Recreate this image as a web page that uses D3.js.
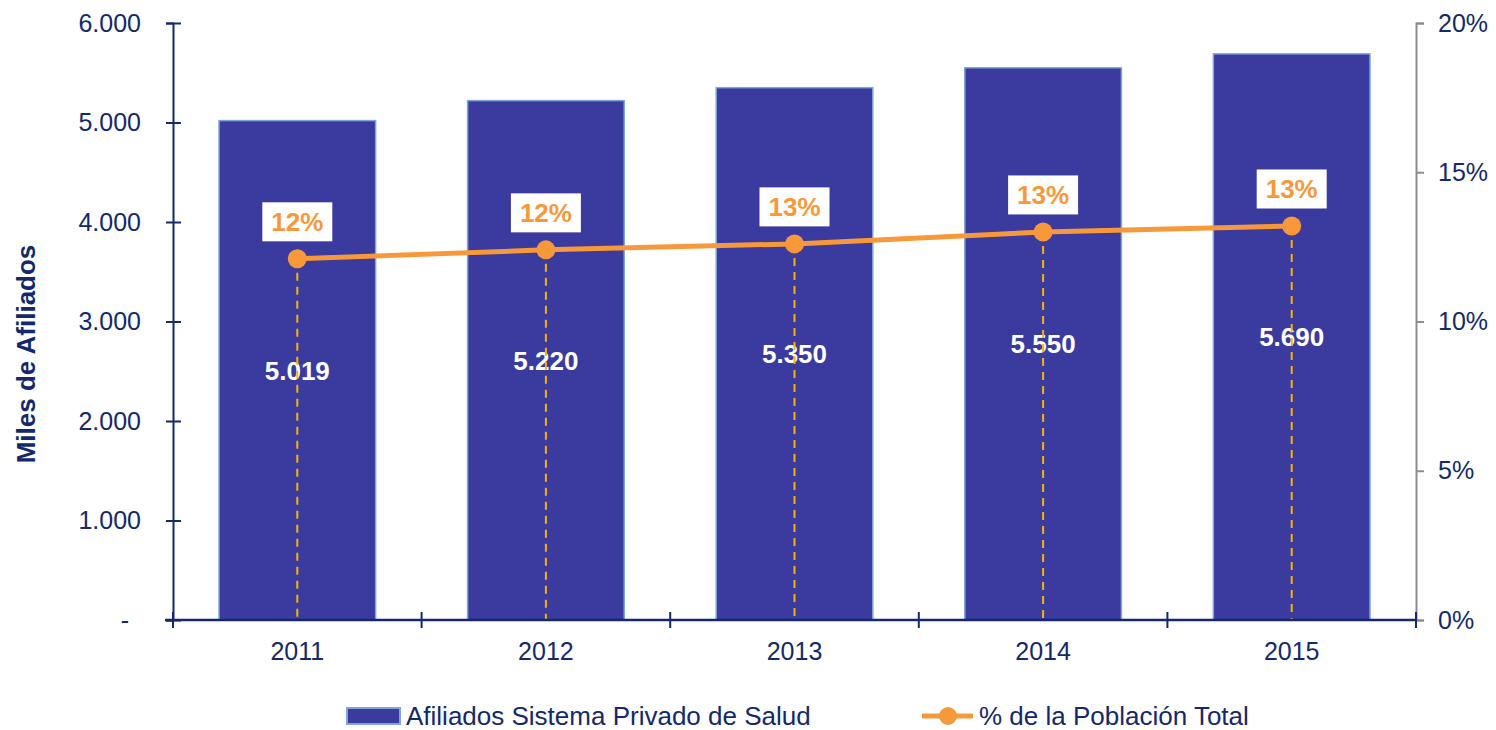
<!DOCTYPE html>
<html>
<head>
<meta charset="utf-8">
<script src="https://cdn.jsdelivr.net/npm/d3@7"></script>
<style>
  body { margin: 0; background: #fff; }
  svg text { font-family: "Liberation Sans", Arial, sans-serif; }
</style>
</head>
<body>
<svg id="chart"></svg>
<script>
// chart data
const years = ["2011", "2012", "2013", "2014", "2015"];
const afiliados = [5019, 5220, 5350, 5550, 5690];
const pctPoblacion = [12.1, 12.4, 12.6, 13.0, 13.2];
const leftTicks = [0, 1000, 2000, 3000, 4000, 5000, 6000];
const rightTicks = [0, 5, 10, 15, 20];

const width = 1496, height = 730;
const margin = { top: 23, right: 80, bottom: 110, left: 173 };
const navy = "#13296b", barFill = "#3a3a9f", barEdge = "#7ea6d8";
const orange = "#f7993a", gold = "#f5b400";

const svg = d3.select("#chart").attr("width", width).attr("height", height);

const locale = d3.formatLocale({ decimal: ",", thousands: ".", grouping: [3], currency: ["", ""] });
const fmt = locale.format(",d");

const x = d3.scaleBand()
  .domain(years)
  .range([margin.left, width - margin.right])
  .paddingInner(0.37)
  .paddingOuter(0.185);

const y = d3.scaleLinear().domain([0, 6000]).range([height - margin.bottom, margin.top]);
const y2 = d3.scaleLinear().domain([0, 20]).range([height - margin.bottom, margin.top]);

const x0 = margin.left, x1 = width - margin.right, yBase = height - margin.bottom;

// bars
svg.selectAll("rect.bar")
  .data(afiliados)
  .enter()
  .append("rect")
  .attr("class", "bar")
  .attr("x", (d, i) => x(years[i]))
  .attr("y", d => y(d))
  .attr("width", x.bandwidth())
  .attr("height", d => yBase - y(d))
  .attr("fill", barFill)
  .attr("stroke", barEdge)
  .attr("stroke-width", 1.5);

// bar value labels
svg.selectAll("text.val")
  .data(afiliados)
  .enter()
  .append("text")
  .attr("class", "val")
  .attr("x", (d, i) => x(years[i]) + x.bandwidth() / 2)
  .attr("y", d => (y(d) + yBase) / 2)
  .attr("dy", "0.36em")
  .attr("text-anchor", "middle")
  .attr("fill", "#fff")
  .style("font-size", "26px")
  .style("font-weight", "bold")
  .text(d => fmt(d));

const cx = (d, i) => x(years[i]) + x.bandwidth() / 2;

// dashed drop lines
svg.selectAll("line.drop")
  .data(pctPoblacion)
  .enter()
  .append("line")
  .attr("class", "drop")
  .attr("x1", cx).attr("x2", cx)
  .attr("y1", d => y2(d)).attr("y2", yBase)
  .attr("stroke", gold)
  .attr("stroke-width", 2)
  .attr("stroke-dasharray", "8,6");

// left axis
const leftAxis = svg.append("g")
  .attr("transform", `translate(${x0},0)`)
  .call(d3.axisLeft(y).tickValues(leftTicks).tickSize(7).tickPadding(25)
    .tickFormat(d => d === 0 ? "-" : fmt(d)));
leftAxis.select(".domain").attr("stroke", navy).attr("stroke-width", 2);
leftAxis.selectAll(".tick line").attr("x1", 8).attr("stroke", navy).attr("stroke-width", 2);
leftAxis.selectAll(".tick text")
  .attr("fill", navy)
  .style("font-size", "25px")
  .filter(d => d === 0)
  .attr("x", -44);

// right axis
const rightAxis = svg.append("g")
  .attr("transform", `translate(${x1},0)`)
  .call(d3.axisRight(y2).tickValues(rightTicks).tickSize(8).tickPadding(14).tickFormat(d => d + "%"));
rightAxis.select(".domain").attr("stroke", "#8c8c8c").attr("stroke-width", 2);
rightAxis.selectAll(".tick line").attr("stroke", "#8c8c8c").attr("stroke-width", 2);
rightAxis.selectAll(".tick text").attr("fill", navy).style("font-size", "25px");

// bottom axis: ticks at band boundaries, labels at centers
const xAxis = svg.append("g");
xAxis.append("line")
  .attr("x1", x0 - 8).attr("x2", x1)
  .attr("y1", yBase).attr("y2", yBase)
  .attr("stroke", navy).attr("stroke-width", 2.5);
const bounds = years.map(yr => x(yr) - x.step() * x.paddingInner() / 2).concat([x1]);
xAxis.selectAll("line.xt")
  .data(bounds)
  .enter()
  .append("line")
  .attr("class", "xt")
  .attr("x1", d => d).attr("x2", d => d)
  .attr("y1", yBase - 8).attr("y2", yBase + 8)
  .attr("stroke", navy).attr("stroke-width", 2);
xAxis.selectAll("text")
  .data(years)
  .enter()
  .append("text")
  .attr("x", d => x(d) + x.bandwidth() / 2)
  .attr("y", yBase + 40)
  .attr("text-anchor", "middle")
  .attr("fill", navy)
  .style("font-size", "25px")
  .text(d => d);

// percentage line
const line = d3.line().x(cx).y(d => y2(d));
svg.append("path")
  .datum(pctPoblacion)
  .attr("d", line)
  .attr("fill", "none")
  .attr("stroke", orange)
  .attr("stroke-width", 5);

svg.selectAll("circle.pt")
  .data(pctPoblacion)
  .enter()
  .append("circle")
  .attr("class", "pt")
  .attr("cx", cx)
  .attr("cy", d => y2(d))
  .attr("r", 9.5)
  .attr("fill", orange);

// percentage labels in white boxes
const pl = svg.selectAll("g.pl")
  .data(pctPoblacion)
  .enter()
  .append("g")
  .attr("class", "pl")
  .attr("transform", (d, i) => `translate(${cx(d, i)},${y2(d) - 37})`);
pl.append("rect")
  .attr("x", -35).attr("y", -19.5)
  .attr("width", 70).attr("height", 39)
  .attr("fill", "#fff");
pl.append("text")
  .attr("text-anchor", "middle")
  .attr("dy", "0.36em")
  .attr("fill", orange)
  .style("font-size", "26px")
  .style("font-weight", "bold")
  .text(d => Math.round(d) + "%");

// y axis title
svg.append("text")
  .attr("transform", "translate(35,354) rotate(-90)")
  .attr("text-anchor", "middle")
  .attr("fill", navy)
  .style("font-size", "26px")
  .style("font-weight", "bold")
  .text("Miles de Afiliados");

// legend
const lg = svg.append("g").attr("transform", "translate(0,716)");
lg.append("rect")
  .attr("x", 347).attr("y", -8)
  .attr("width", 53).attr("height", 16)
  .attr("fill", barFill).attr("stroke", barEdge).attr("stroke-width", 2);
lg.append("text")
  .attr("x", 406).attr("dy", "0.36em")
  .attr("fill", navy).style("font-size", "26px")
  .text("Afiliados Sistema Privado de Salud");
lg.append("line")
  .attr("x1", 922).attr("x2", 973)
  .attr("stroke", orange).attr("stroke-width", 5);
lg.append("circle")
  .attr("cx", 948).attr("r", 9)
  .attr("fill", orange);
lg.append("text")
  .attr("x", 979).attr("dy", "0.36em")
  .attr("fill", navy).style("font-size", "26px")
  .text("% de la Población Total");
</script>
</body>
</html>
